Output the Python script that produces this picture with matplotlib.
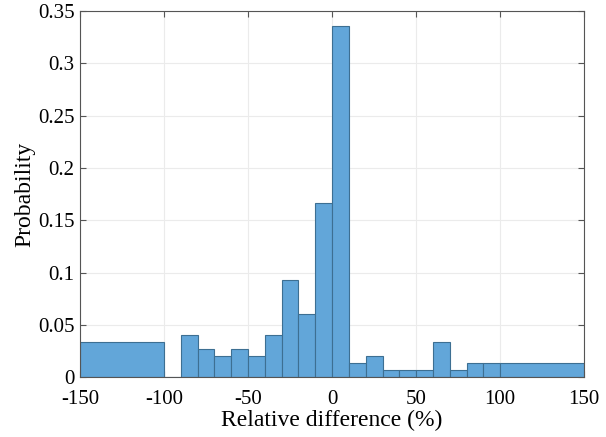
import numpy as np
import matplotlib
matplotlib.use("Agg")
import matplotlib.pyplot as plt
from matplotlib.ticker import FormatStrFormatter

# bin edges (relative difference, %) and probabilities
edges = [-150, -100, -90, -80, -70, -60, -50, -40, -30, -20, -10, 0,
         10, 20, 30, 40, 50, 60, 70, 80, 90, 100, 150]
prob = [0.0333, 0.0, 0.04, 0.0267, 0.02, 0.0267, 0.02, 0.04, 0.0933, 0.06,
        0.1667, 0.336, 0.0133, 0.02, 0.0067, 0.0067, 0.0067, 0.0333, 0.0067,
        0.0133, 0.0133, 0.0133]

plt.rcParams['font.family'] = ['Liberation Serif', 'DejaVu Serif']
plt.rcParams['axes.unicode_minus'] = False

fig = plt.figure(figsize=(6.06, 4.37), dpi=100)
ax = fig.add_axes([0.132, 0.137, 0.832, 0.838])

left = np.array(edges[:-1])
width = np.diff(edges)
ax.bar(left, prob, width=width, align='edge', color='#62a6d9',
       edgecolor='#3d6f92', linewidth=0.8, zorder=2)

ax.set_xlim(-150, 150)
ax.set_ylim(0, 0.35)
ax.set_xticks(np.arange(-150, 151, 50))
ax.set_yticks(np.arange(0, 0.351, 0.05))
ax.yaxis.set_major_formatter(FormatStrFormatter('%g'))
ax.grid(True, color='#ebebeb', linewidth=0.8, zorder=0)
ax.set_axisbelow(True)
ax.tick_params(direction='in', length=4, labelsize=15, color='#555555',
               top=True, right=True)
ax.tick_params(axis='x', pad=9)
ax.tick_params(axis='y', pad=4)
for s in ax.spines.values():
    s.set_color('#555555')
    s.set_linewidth(0.8)

ax.set_xlabel("Relative difference (%)", fontsize=17, labelpad=1)
ax.set_ylabel("Probability", fontsize=17, labelpad=2)

fig.savefig("out.png", dpi=100)
